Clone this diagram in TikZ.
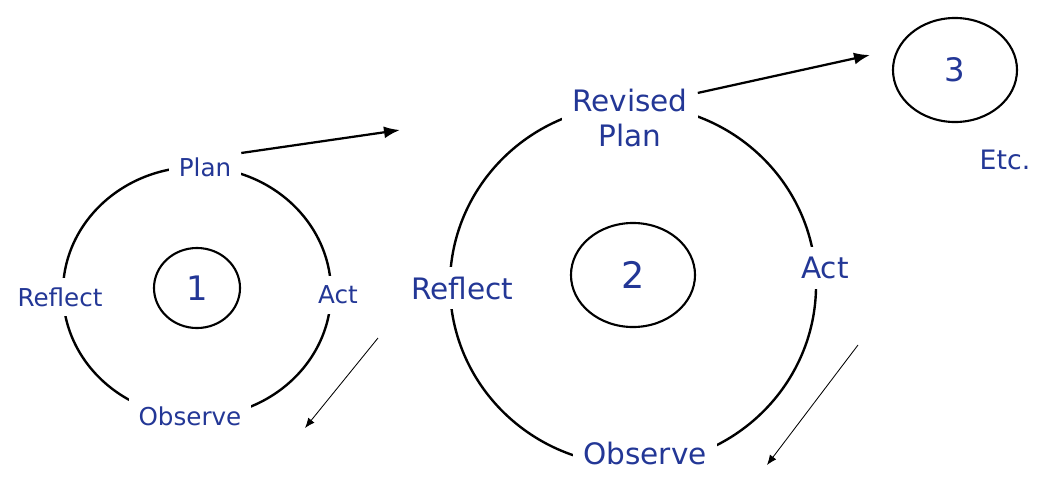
\documentclass[tikz,border=0pt]{standalone}
\usepackage{fontspec}
\setmainfont{DejaVu Sans}
\usetikzlibrary{arrows.meta,positioning,shapes.geometric}
\definecolor{labblue}{RGB}{35,55,150}
\tikzset{
  ring/.style  ={draw,ellipse,line width=1.7pt,inner sep=0pt},
  hub/.style   ={draw,ellipse,line width=1.5pt,text=labblue,inner sep=0pt},
  lab/.style   ={fill=white,text=labblue,inner sep=7pt,align=center},
  ar/.style    ={-{Latex[length=4mm,width=3mm]},line width=1.6pt},
  thinar/.style={-{Latex[length=2.5mm,width=2mm]},line width=0.6pt},
}
\newcommand{\fsz}[1]{\fontsize{#1pt}{#1pt}\selectfont}

\begin{document}
\begin{tikzpicture}[x=0.025cm,y=-0.025cm]
\useasboundingbox (0,0) rectangle (1040,488);
% cycle 1
\node[ring,minimum width=6.7cm,minimum height=6.25cm] (r1) at (197,292) {};
\node[hub,minimum width=2.15cm,minimum height=2cm,font=\fsz{24}] (h1) at (197,288) {1};
\node[lab,font=\fsz{17.5}] (plan1) at (205,167) {Plan};
\node[lab,font=\fsz{17.5}] (refl1) at (60,297) {Reflect};
\node[lab,font=\fsz{17.5}] (act1) at (338,295) {Act};
\node[lab,font=\fsz{17.5}] (obs1) at (190,416) {Observe};
% cycle 2
\node[ring,minimum width=9.15cm,minimum height=9cm] (r2) at (633,285) {};
\node[hub,minimum width=3.1cm,minimum height=2.6cm,font=\fsz{26}] (h2) at (633,275) {2};
\node[lab,font=\fontsize{21pt}{25pt}\selectfont] (plan2) at (630,118) {Revised\\Plan};
\node[lab,font=\fsz{21}] (refl2) at (462,288) {Reflect};
\node[lab,font=\fsz{21}] (act2) at (825,268) {Act};
\node[lab,font=\fsz{21}] (obs2) at (645,453) {Observe};
% cycle 3
\node[hub,minimum width=3.1cm,minimum height=2.6cm,font=\fsz{23}] (h3) at (955,70) {3};
\node[lab,font=\fsz{19}] (etc) at (1005,160) {Etc.};
% arrows
\coordinate (a1) at (400,130);
\coordinate (a2) at (870,55);
\coordinate (s1) at (378,338); \coordinate (e1) at (305,428);
\coordinate (s2) at (858,345); \coordinate (e2) at (767,465);
\draw[ar] ([yshift=-4pt]plan1.north east) -- (a1);
\draw[ar] ([yshift=-10pt]plan2.north east) -- (a2);
\draw[thinar] (s1) -- (e1);
\draw[thinar] (s2) -- (e2);
\end{tikzpicture}
\end{document}
